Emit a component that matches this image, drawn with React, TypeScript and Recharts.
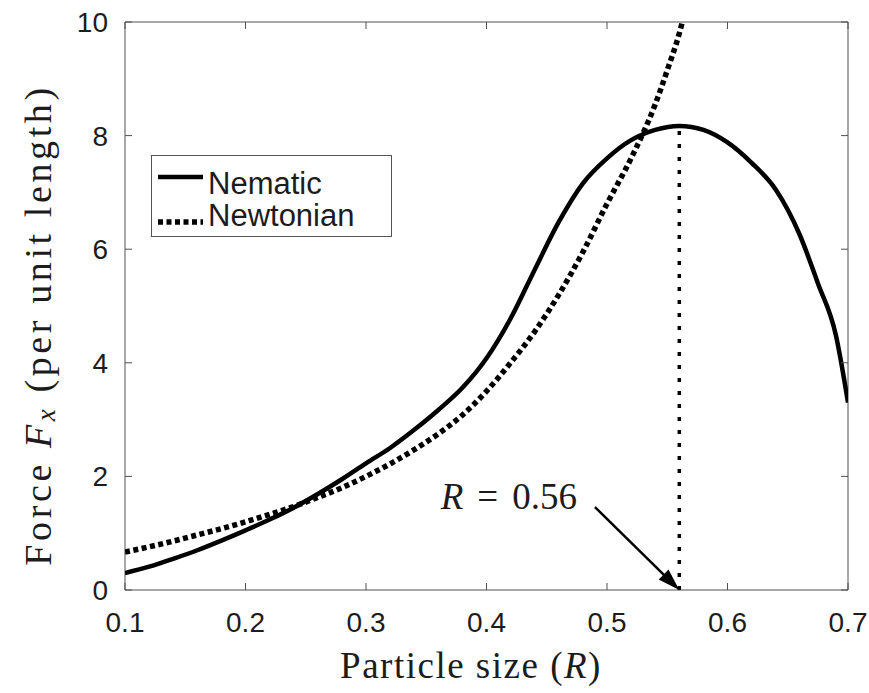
import React from 'react';
import { LineChart, Line, XAxis, YAxis, ReferenceLine, ReferenceArea, Legend } from 'recharts';

// ---- data ----
const nematicR = [0.10, 0.12, 0.14, 0.16, 0.18, 0.20, 0.22, 0.24, 0.26, 0.28, 0.30, 0.32, 0.34, 0.36, 0.38, 0.40, 0.42, 0.44, 0.46, 0.48, 0.50, 0.52, 0.54, 0.56, 0.58, 0.60, 0.62, 0.64, 0.66, 0.675, 0.69, 0.70];
const nematicF = [0.30, 0.41, 0.55, 0.70, 0.87, 1.05, 1.24, 1.45, 1.69, 1.95, 2.23, 2.50, 2.82, 3.17, 3.56, 4.08, 4.78, 5.64, 6.48, 7.16, 7.60, 7.92, 8.10, 8.17, 8.10, 7.88, 7.52, 7.05, 6.25, 5.40, 4.48, 3.30];

const newtonianR = [0.10, 0.12, 0.14, 0.16, 0.18, 0.20, 0.22, 0.24, 0.26, 0.28, 0.30, 0.32, 0.34, 0.36, 0.38, 0.40, 0.42, 0.44, 0.46, 0.48, 0.50, 0.52, 0.54, 0.55, 0.56, 0.5625];
const newtonianF = [0.67, 0.76, 0.86, 0.97, 1.08, 1.20, 1.33, 1.47, 1.63, 1.80, 2.00, 2.22, 2.47, 2.75, 3.08, 3.50, 4.00, 4.55, 5.20, 5.95, 6.80, 7.60, 8.55, 9.15, 9.80, 10.0];

const xTicks = [0.1, 0.2, 0.3, 0.4, 0.5, 0.6, 0.7];
const yTicks = [0, 2, 4, 6, 8, 10];
const xDomain = [0.1, 0.7];
const yDomain = [0, 10];

const peakR = 0.56;
const peakF = 8.15;
const arrowStart = { r: 0.49, f: 1.46 };
const annotation = '0.56';
const seriesNames = ['Nematic', 'Newtonian'];
const xLabel = 'Particle size';
const yLabelPre = 'Force';
const yLabelPost = '(per unit length)';

const nematicData = nematicR.map((r, i) => ({ r, f: nematicF[i] }));
const newtonianData = newtonianR.map((r, i) => ({ r, f: newtonianF[i] }));

// ---- layout (page coordinates; chart is placed at page origin) ----
const W = 869;
const H = 693;
const PLOT_LEFT = 125;
const PLOT_RIGHT = 848;
const PLOT_TOP = 22;
const PLOT_BOTTOM = 590;
const TICK_LEN = 7;
const AXIS_COLOR = '#505050';
const TEXT_COLOR = '#1c1c1c';
const SANS = '"Liberation Sans", Arial, Helvetica, sans-serif';
const SERIF = '"Liberation Serif", "Times New Roman", serif';

const XTick = (props: any) => {
  const { x, payload } = props;
  return (
    <g>
      <line x1={x} x2={x} y1={PLOT_BOTTOM} y2={PLOT_BOTTOM - TICK_LEN} stroke={AXIS_COLOR} strokeWidth={1} />
      <line x1={x} x2={x} y1={PLOT_TOP} y2={PLOT_TOP + TICK_LEN} stroke={AXIS_COLOR} strokeWidth={1} />
      <text x={x} y={PLOT_BOTTOM + 42} textAnchor="middle" fontFamily={SANS} fontSize={28} fill={TEXT_COLOR}>
        {String(payload.value)}
      </text>
    </g>
  );
};

const YTick = (props: any) => {
  const { y, payload } = props;
  return (
    <g>
      <line x1={PLOT_LEFT} x2={PLOT_LEFT + TICK_LEN} y1={y} y2={y} stroke={AXIS_COLOR} strokeWidth={1} />
      <line x1={PLOT_RIGHT} x2={PLOT_RIGHT - TICK_LEN} y1={y} y2={y} stroke={AXIS_COLOR} strokeWidth={1} />
      <text x={PLOT_LEFT - 17} y={y + 10} textAnchor="end" fontFamily={SANS} fontSize={28} fill={TEXT_COLOR}>
        {String(payload.value)}
      </text>
    </g>
  );
};

const XLabel = () => (
  <text x={471} y={678} textAnchor="middle" fontFamily={SERIF} fontSize={37} fill={TEXT_COLOR} letterSpacing={1.5}>
    {xLabel} (<tspan fontStyle="italic">R</tspan>)
  </text>
);

const YLabel = () => {
  const cx = 38;
  const cy = 325;
  return (
    <text
      x={cx}
      y={cy}
      transform={`rotate(-90 ${cx} ${cy})`}
      textAnchor="middle"
      dominantBaseline="central"
      fontFamily={SERIF}
      fontSize={38}
      fill={TEXT_COLOR}
      letterSpacing={3.6}
    >
      {yLabelPre} <tspan fontStyle="italic">F</tspan>
      <tspan fontStyle="italic" fontSize={27} dy={8}>x</tspan>
      <tspan dy={-8}> {yLabelPost}</tspan>
    </text>
  );
};

const ArrowShape = (props: any) => {
  const { x1, y1, x2, y2 } = props;
  const dx = x2 - x1;
  const dy = y2 - y1;
  const len = Math.sqrt(dx * dx + dy * dy) || 1;
  const ux = dx / len;
  const uy = dy / len;
  const nx = -uy;
  const ny = ux;
  const headLen = 22;
  const headW = 7;
  const bx = x2 - ux * headLen;
  const by = y2 - uy * headLen;
  return (
    <g>
      <line x1={x1} y1={y1} x2={x2 - ux * 8} y2={y2 - uy * 8} stroke="#000" strokeWidth={2.5} />
      <polygon
        points={`${x2},${y2} ${bx + nx * headW},${by + ny * headW} ${bx - nx * headW},${by - ny * headW}`}
        fill="#000"
      />
      <text x={x1 - 18} y={y1 + 2} textAnchor="end" fontFamily={SERIF} fontSize={37} fill={TEXT_COLOR}>
        <tspan fontStyle="italic">R</tspan>
        <tspan dx={14}>=</tspan>
        <tspan dx={14}>{annotation}</tspan>
      </text>
    </g>
  );
};

const LegendBox = () => (
  <div
    style={{
      width: 241,
      height: 82,
      boxSizing: 'border-box',
      border: '1px solid #555',
      background: '#fff',
      position: 'relative',
    }}
  >
    <svg width={241} height={82} style={{ position: 'absolute', left: -1, top: -1 }}>
      <line x1={7} x2={52} y1={22} y2={22} stroke="#000" strokeWidth={4.5} />
      <line x1={7} x2={52} y1={67} y2={67} stroke="#000" strokeWidth={5.5} strokeDasharray="5 3.5" />
      <text x={57} y={39} fontFamily={SANS} fontSize={31} fill={TEXT_COLOR}>{seriesNames[0]}</text>
      <text x={57} y={71} fontFamily={SANS} fontSize={31} fill={TEXT_COLOR}>{seriesNames[1]}</text>
    </svg>
  </div>
);

export default function App() {
  return (
    <div style={{ position: 'absolute', left: 0, top: 0, width: W, height: H }}>
      <LineChart width={W} height={H} margin={{ top: PLOT_TOP, right: W - PLOT_RIGHT, left: 0, bottom: 0 }}>
        <XAxis
          dataKey="r"
          type="number"
          domain={xDomain}
          ticks={xTicks}
          allowDataOverflow
          axisLine={false}
          tickLine={false}
          tickSize={0}
          tickMargin={0}
          height={H - PLOT_BOTTOM}
          tick={<XTick />}
          interval={0}
          label={<XLabel />}
        />
        <YAxis
          dataKey="f"
          type="number"
          domain={yDomain}
          ticks={yTicks}
          allowDataOverflow
          axisLine={false}
          tickLine={false}
          tickSize={0}
          tickMargin={0}
          width={PLOT_LEFT}
          tick={<YTick />}
          interval={0}
          label={<YLabel />}
        />
        <ReferenceArea
          x1={xDomain[0]}
          x2={xDomain[1]}
          y1={yDomain[0]}
          y2={yDomain[1]}
          fill="#fff"
          fillOpacity={0}
          stroke={AXIS_COLOR}
          strokeWidth={1}
        />
        <ReferenceLine
          segment={[{ x: peakR, y: 0 }, { x: peakR, y: peakF }]}
          stroke="#000"
          strokeWidth={3.5}
          strokeDasharray="4 9"
        />
        <Line
          data={nematicData}
          dataKey="f"
          type="monotone"
          stroke="#000"
          strokeWidth={4.5}
          dot={false}
          isAnimationActive={false}
          name={seriesNames[0]}
        />
        <Line
          data={newtonianData}
          dataKey="f"
          type="monotone"
          stroke="#000"
          strokeWidth={5.5}
          strokeDasharray="5 3.5"
          dot={false}
          isAnimationActive={false}
          name={seriesNames[1]}
        />
        <ReferenceLine
          segment={[{ x: arrowStart.r, y: arrowStart.f }, { x: peakR, y: 0 }]}
          shape={ArrowShape}
        />
        <Legend
          layout="vertical"
          align="center"
          verticalAlign="middle"
          content={<LegendBox />}
          wrapperStyle={{ left: 151, top: 155, width: 241, height: 82 }}
        />
      </LineChart>
    </div>
  );
}
